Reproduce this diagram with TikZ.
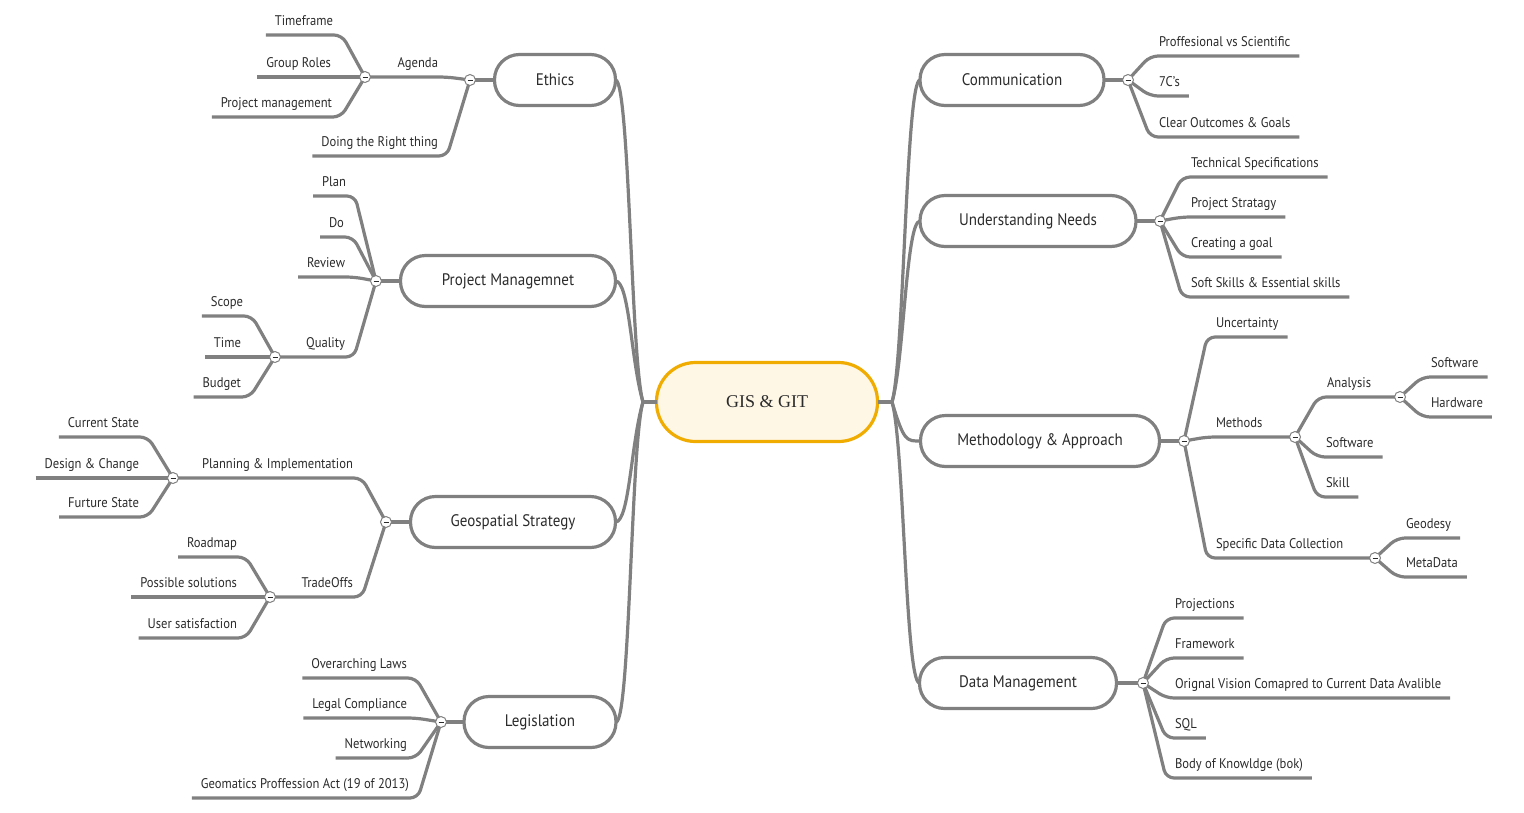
\documentclass[tikz,border=0pt]{standalone}
\usepackage{fontspec}
\setmainfont[FakeStretch=0.9]{PT Sans}
\newfontfamily\rootfont{Liberation Serif}
\definecolor{linegray}{HTML}{808080}
\definecolor{rootfill}{HTML}{FFF7E6}
\definecolor{rootdraw}{HTML}{F0AC00}
\definecolor{ink}{HTML}{2B2B2B}
\begin{document}
\begin{tikzpicture}[x=1pt, y=-1pt,
    branch/.style={draw=linegray, line width=3.2pt, rounded corners=8pt},
    topic/.style={draw=linegray, line width=3.2pt, fill=white, rounded corners=25pt, minimum height=51pt, inner sep=0pt, outer sep=0pt, text=ink, font=\fontsize{16.7}{19}\selectfont},
    root/.style={draw=rootdraw, fill=rootfill, line width=3.2pt, rounded corners=39pt, minimum width=221pt, minimum height=79pt, outer sep=0pt, text=ink, font=\rootfont\fontsize{18}{20}\selectfont},
    leaf/.style={inner xsep=9pt, inner ysep=7pt, outer sep=0pt, text height=10pt, text depth=3pt, text=ink, font=\fontsize{14}{16}\selectfont},
    leafL/.style={leaf, anchor=south east},
    leafR/.style={leaf, anchor=south west},
    knob/.style={circle, draw=linegray, fill=white, line width=1pt, minimum size=11pt, inner sep=0pt,
        path picture={\draw[line width=0.8pt, ink] ([xshift=-2.5pt]path picture bounding box.center) -- ([xshift=2.5pt]path picture bounding box.center);}}]
    \useasboundingbox (0,0) rectangle (1524,812);

    \node[root] (gis) at (767,402) {GIS \& GIT};
    \coordinate (rootL) at (643,402);
    \coordinate (rootR) at (892,402);

    \node[topic, minimum width=121pt] (eth) at (555,80) {Ethics};
    \node[topic, minimum width=215pt] (pm) at (508,281) {Project Managemnet};
    \node[topic, minimum width=205pt] (geo) at (513,522) {Geospatial Strategy};
    \node[topic, minimum width=152pt] (leg) at (540,722) {Legislation};
    \node[topic, minimum width=184pt] (com) at (1012,80) {Communication};
    \node[topic, minimum width=216pt] (und) at (1028,221) {Understanding Needs};
    \node[topic, minimum width=239pt] (met) at (1040,441) {Methodology \& Approach};
    \node[topic, minimum width=197pt] (dat) at (1018,683) {Data Management};

    % collapse knobs
    \coordinate (ethK) at (470,80);
    \coordinate (agdK) at (365,77);
    \coordinate (pmK) at (376,281);
    \coordinate (qlyK) at (275,357);
    \coordinate (geoK) at (386,522);
    \coordinate (plnK) at (173,478);
    \coordinate (trdK) at (270,597);
    \coordinate (legK) at (441,722);
    \coordinate (comK) at (1128,80);
    \coordinate (undK) at (1160,221);
    \coordinate (metK) at (1184,441);
    \coordinate (mthK) at (1295,437);
    \coordinate (anaK) at (1400,397);
    \coordinate (sdcK) at (1375,558);
    \coordinate (datK) at (1143,683);

    \draw[branch] (gis.west) -- (rootL);
    \draw[branch] (gis.east) -- (rootR);
    \foreach \t/\s in {eth/-1, pm/-1, geo/1, leg/1}
        \draw[branch] (rootL) .. controls +(-12,\s*40) and +(14,0) .. (\t.east);
    \foreach \t/\s in {com/-1, und/-1, met/1, dat/1}
        \draw[branch] (rootR) .. controls +(12,\s*40) and +(-14,0) .. (\t.west);
    \foreach \t in {eth, pm, geo, leg}
        \draw[branch] (\t.west) -- (\t K);
    \foreach \t in {com, und, met, dat}
        \draw[branch] (\t.east) -- (\t K);

    % sub topics
    \node[leafL] (agd) at (447,77) {Agenda};
    \draw[branch] (agdK) -- (agd.south east) -- (ethK);
    \node[leafL] (qly) at (354,357) {Quality};
    \draw[branch] (qlyK) -- (qly.south east) -- (pmK);
    \node[leafL] (pln) at (362,478) {Planning \& Implementation};
    \draw[branch] (plnK) -- (pln.south east) -- (geoK);
    \node[leafL] (trd) at (362,597) {TradeOffs};
    \draw[branch] (trdK) -- (trd.south east) -- (geoK);
    \node[leafR] (mth) at (1207,437) {Methods};
    \draw[branch] (metK) -- (mth.south west) -- (mthK);
    \node[leafR] (ana) at (1318,397) {Analysis};
    \draw[branch] (mthK) -- (ana.south west) -- (anaK);
    \node[leafR] (sdc) at (1207,558) {Specific Data Collection};
    \draw[branch] (metK) -- (sdc.south west) -- (sdcK);

    % left leaves
    \foreach \n/\x/\y/\t/\p in {tf/342/35/Timeframe/agdK, gr/340/77/Group Roles/agdK,
            prm/341/117/Project management/agdK, drt/447/156/Doing the Right thing/ethK,
            plan/355/196/Plan/pmK, do/353/237/Do/pmK, rev/354/277/Review/pmK,
            scp/252/316/Scope/qlyK, tim/250/357/Time/qlyK, bdg/250/397/Budget/qlyK,
            cur/148/437/Current State/plnK, dsg/148/478/Design \& Change/plnK, fut/148/517/Furture State/plnK,
            rdm/246/557/Roadmap/trdK, pos/246/597/Possible solutions/trdK, usr/246/638/User satisfaction/trdK,
            ovl/416/678/Overarching Laws/legK, lgc/416/718/Legal Compliance/legK,
            net/416/758/Networking/legK, gpa/418/798/Geomatics Proffession Act (19 of 2013)/legK} {
        \node[leafL] (\n) at (\x,\y) {\t};
        \draw[branch] (\n.south west) -- (\n.south east) -- (\p);
    }

    % right leaves
    \foreach \n/\x/\y/\t/\p in {pvs/1150/56/Proffesional vs Scientific/comK, sev/1150/96/7C's/comK,
            clr/1150/137/Clear Outcomes \& Goals/comK,
            tsp/1182/177/Technical Specifications/undK, pst/1182/217/Project Stratagy/undK,
            cag/1182/257/Creating a goal/undK, ssk/1182/297/Soft Skills \& Essential skills/undK,
            unc/1207/337/Uncertainty/metK,
            asw/1422/377/Software/anaK, ahw/1422/417/Hardware/anaK,
            msw/1317/457/Software/mthK, skl/1317/497/Skill/mthK,
            gds/1397/538/Geodesy/sdcK, mtd/1397/577/MetaData/sdcK,
            prj/1166/618/Projections/datK, frm/1166/658/Framework/datK,
            ovc/1166/698/Orignal Vision Comapred to Current Data Avalible/datK,
            sql/1166/738/SQL/datK, bok/1166/778/Body of Knowldge (bok)/datK} {
        \node[leafR] (\n) at (\x,\y) {\t};
        \draw[branch] (\n.south east) -- (\n.south west) -- (\p);
    }

    \foreach \k in {ethK, agdK, pmK, qlyK, geoK, plnK, trdK, legK, comK, undK, metK, mthK, anaK, sdcK, datK}
        \node[knob] at (\k) {};
\end{tikzpicture}
\end{document}
